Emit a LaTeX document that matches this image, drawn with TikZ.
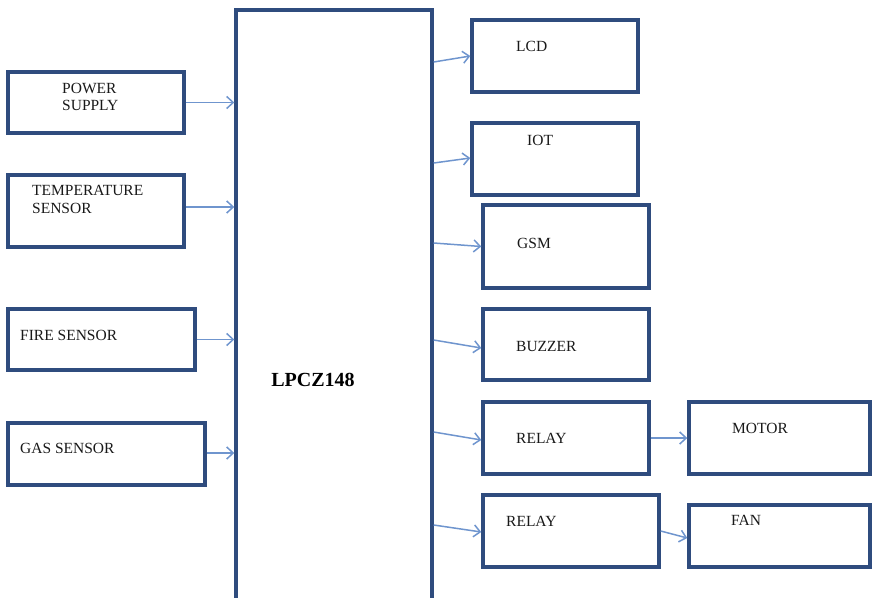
\documentclass[tikz,border=0pt]{standalone}
\usepackage{fontspec}
\setmainfont{Liberation Serif}
\usetikzlibrary{arrows.meta}
\definecolor{boxblue}{HTML}{2F4C7E}
\definecolor{arrowblue}{HTML}{6F95CE}
\tikzset{
  blk/.style={draw=boxblue, line width=3.4pt, rectangle, inner sep=0pt, fill=white},
  txt/.style={anchor=west, inner sep=0pt, font=\fontsize{15.5}{17.5}\selectfont, align=left, text=black!90},
  conn/.style={draw=arrowblue, line width=1.5pt, -{Straight Barb[length=6.5pt,width=12pt,line width=1.5pt]}}
}
\begin{document}
\begin{tikzpicture}[x=1pt,y=-1pt]
\useasboundingbox (0,0) rectangle (872,597);
% main controller
\node[blk, minimum width=196pt, minimum height=600pt] (main) at (334,310) {};
\node[anchor=center, inner sep=0pt, font=\fontsize{20}{22}\selectfont\bfseries] (maint) at (313,380) {LPCZ148};
% left inputs
\node[blk, minimum width=176pt, minimum height=61pt] (pow) at (96,102.5) {};
\node[txt, font=\fontsize{15.5}{17.5}\selectfont] (powt) at (62,97) {POWER\\SUPPLY};
\node[blk, minimum width=176pt, minimum height=72pt] (temp) at (96,211) {};
\node[txt, font=\fontsize{15.5}{17.5}\selectfont] (tempt) at (32,199.5) {TEMPERATURE\\SENSOR};
\node[blk, minimum width=187pt, minimum height=61pt] (fire) at (101.5,339.5) {};
\node[txt] (firet) at (20,335) {FIRE SENSOR};
\node[blk, minimum width=197pt, minimum height=62pt] (gas) at (106.5,454) {};
\node[txt] (gast) at (20,448) {GAS SENSOR};
% right outputs
\node[blk, minimum width=166pt, minimum height=72pt] (lcd) at (555,56) {};
\node[txt] (lcdt) at (516,46) {LCD};
\node[blk, minimum width=166pt, minimum height=72pt] (iot) at (555,159) {};
\node[txt] (iott) at (527,140) {IOT};
\node[blk, minimum width=166pt, minimum height=83pt] (gsm) at (566,246.5) {};
\node[txt] (gsmt) at (517,243) {GSM};
\node[blk, minimum width=166pt, minimum height=71pt] (buz) at (566,344.5) {};
\node[txt] (buzt) at (516,346) {BUZZER};
\node[blk, minimum width=166pt, minimum height=72pt] (rel1) at (566,438) {};
\node[txt] (rel1t) at (516,438) {RELAY};
\node[blk, minimum width=176pt, minimum height=72pt] (rel2) at (571,531) {};
\node[txt] (rel2t) at (506,521) {RELAY};
\node[blk, minimum width=181pt, minimum height=72pt] (motor) at (779.5,438) {};
\node[txt] (motort) at (732,428) {MOTOR};
\node[blk, minimum width=181pt, minimum height=62pt] (fan) at (779.5,536) {};
\node[txt] (fant) at (731,520) {FAN};
% connectors
\draw[conn] (pow.east) -- (main.west |- pow.east);
\draw[conn] (temp.east |- 0,207) -- (main.west |- 0,207);
\draw[conn] (fire.east) -- (main.west |- fire.east);
\draw[conn] (gas.east |- 0,453) -- (main.west |- 0,453);
\draw[conn] (main.east |- 0,62) -- (lcd.west);
\draw[conn] (main.east |- 0,163) -- (iot.west |- 0,158);
\draw[conn] (main.east |- 0,243) -- (gsm.west);
\draw[conn] (main.east |- 0,340) -- (buz.west |- 0,348);
\draw[conn] (main.east |- 0,432) -- (rel1.west |- 0,440);
\draw[conn] (main.east |- 0,525) -- (rel2.west |- 0,532);
\draw[conn] (rel1.east) -- (motor.west);
\draw[conn] (rel2.east) -- (fan.west |- 0,538);
\end{tikzpicture}
\end{document}
